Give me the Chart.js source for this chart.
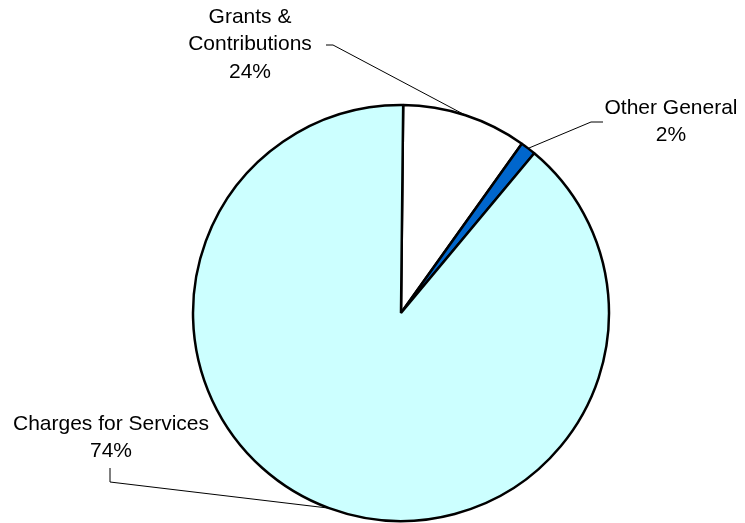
<!DOCTYPE html>
<html>
<head>
<meta charset="utf-8">
<script src="https://cdn.jsdelivr.net/npm/chart.js@4"></script>
<style>
  html, body { margin: 0; padding: 0; background: #ffffff; }
  #wrap { width: 745px; height: 523px; position: relative; }
</style>
</head>
<body>
<div id="wrap"><canvas id="c" width="745" height="523"></canvas></div>
<script>
// ---- data ----
const categories = ["Grants &\nContributions", "Other General", "Charges for Services"];
const sliceValues = [9.7, 1.2, 89.1];          // slice sizes as drawn
const percentLabels = ["24%", "2%", "74%"];     // printed percentages
const sliceColors = ["#FFFFFF", "#0066CC", "#CCFFFF"];

// ---- label layout (pixels): text centre, first line y, leader elbow and end ----
const labelLayout = [
  { cx: 250, y0: 17,  elbow: [333, 45],  end: [326, 45] },
  { cx: 671, y0: 108, elbow: [591, 122], end: [603, 122] },
  { cx: 111, y0: 424, elbow: [110, 482], end: [110, 468] }
];
const LINE_H = 27.5;
const FONT = '21px "Liberation Sans", Arial, sans-serif';

const labelPlugin = {
  id: 'pieLabels',
  afterDatasetsDraw(chart) {
    const ctx = chart.ctx;
    const meta = chart.getDatasetMeta(0);
    ctx.save();
    meta.data.forEach((arc, i) => {
      const p = arc.getProps(['x', 'y', 'startAngle', 'endAngle', 'outerRadius'], true);
      const mid = (p.startAngle + p.endAngle) / 2;
      const ax = p.x + Math.cos(mid) * p.outerRadius;
      const ay = p.y + Math.sin(mid) * p.outerRadius;
      const L = labelLayout[i];
      ctx.beginPath();
      ctx.strokeStyle = '#000000';
      ctx.lineWidth = 1;
      ctx.moveTo(ax, ay);
      ctx.lineTo(L.elbow[0], L.elbow[1]);
      ctx.lineTo(L.end[0], L.end[1]);
      ctx.stroke();

      const lines = categories[i].split('\n').concat([percentLabels[i]]);
      ctx.fillStyle = '#000000';
      ctx.font = FONT;
      ctx.textAlign = 'center';
      ctx.textBaseline = 'middle';
      lines.forEach((t, k) => ctx.fillText(t, L.cx, L.y0 + k * LINE_H));
    });
    ctx.restore();
  }
};

new Chart(document.getElementById('c'), {
  type: 'pie',
  data: {
    labels: categories,
    datasets: [{
      data: sliceValues,
      backgroundColor: sliceColors,
      borderColor: '#000000',
      borderWidth: 2.5,
      hoverOffset: 0
    }]
  },
  options: {
    responsive: false,
    animation: false,
    rotation: 0.6,
    radius: 208,
    layout: { padding: { left: 57, right: 0, top: 103, bottom: 0 } },
    plugins: {
      legend: { display: false },
      tooltip: { enabled: false },
      title: { display: false }
    }
  },
  plugins: [labelPlugin]
});
</script>
</body>
</html>
